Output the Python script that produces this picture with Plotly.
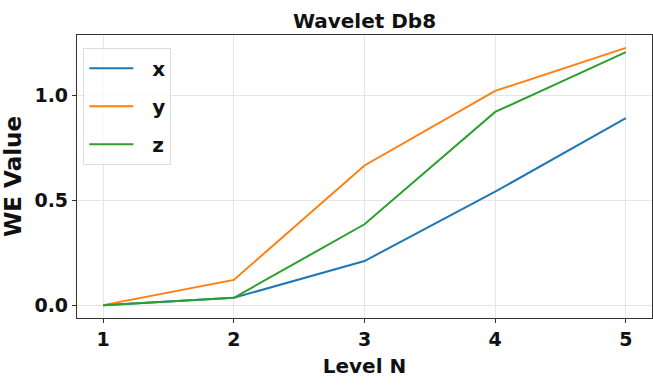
import plotly.graph_objects as go

levels = [1, 2, 3, 4, 5]
x_vals = [0.0, 0.035, 0.21, 0.54, 0.89]
y_vals = [0.0, 0.12, 0.665, 1.02, 1.225]
z_vals = [0.0, 0.035, 0.385, 0.92, 1.205]
names = ["x", "y", "z"]
colors = ["#1f77b4", "#ff7f0e", "#2ca02c"]

font = "DejaVu Sans"
fig = go.Figure()
for n, v, c in zip(names, [x_vals, y_vals, z_vals], colors):
    fig.add_trace(go.Scatter(x=levels, y=v, mode="lines", name=f"<b>\u00a0\u00a0{n}</b>",
                             legendgroup=n, line=dict(color=c, width=2)))

axis_common = dict(showline=True, linecolor="#333333", linewidth=1.2, mirror=True,
                   showgrid=True, gridcolor="#e6e6e6", gridwidth=1,
                   ticks="outside", ticklen=4, tickcolor="#333333", zeroline=False,
                   tickfont=dict(family=font, size=19, color="#111111"))
fig.update_layout(
    width=653, height=386,
    margin=dict(l=77, r=1, t=35, b=68),
    paper_bgcolor="white", plot_bgcolor="white",
    title=dict(text="<b>Wavelet Db8</b>", xref="paper", x=0.5, xanchor="center", y=0.965, yanchor="top",
               font=dict(family=font, size=20, color="#111111")),
    xaxis=dict(range=[0.8, 5.2], tickvals=levels, ticktext=[f"<b>{l}</b>" for l in levels],
               title=dict(text="<b>Level N</b>", standoff=10, font=dict(family=font, size=20, color="#111111")),
               **axis_common),
    yaxis=dict(range=[-0.0613, 1.2863], tickvals=[0.0, 0.5, 1.0],
               ticktext=["<b>0.0</b>", "<b>0.5</b>", "<b>1.0</b>"],
               title=dict(text="<b>WE Value</b>", standoff=8, font=dict(family=font, size=23, color="#111111")),
               **axis_common),
    legend=dict(x=0.011, y=0.955, xanchor="left", yanchor="top",
                bgcolor="rgba(255,255,255,0.8)", bordercolor="#dddddd", borderwidth=1,
                font=dict(family=font, size=20, color="#111111"), itemwidth=44,
                tracegroupgap=9),
    showlegend=True,
)
fig.write_html("out.html")
